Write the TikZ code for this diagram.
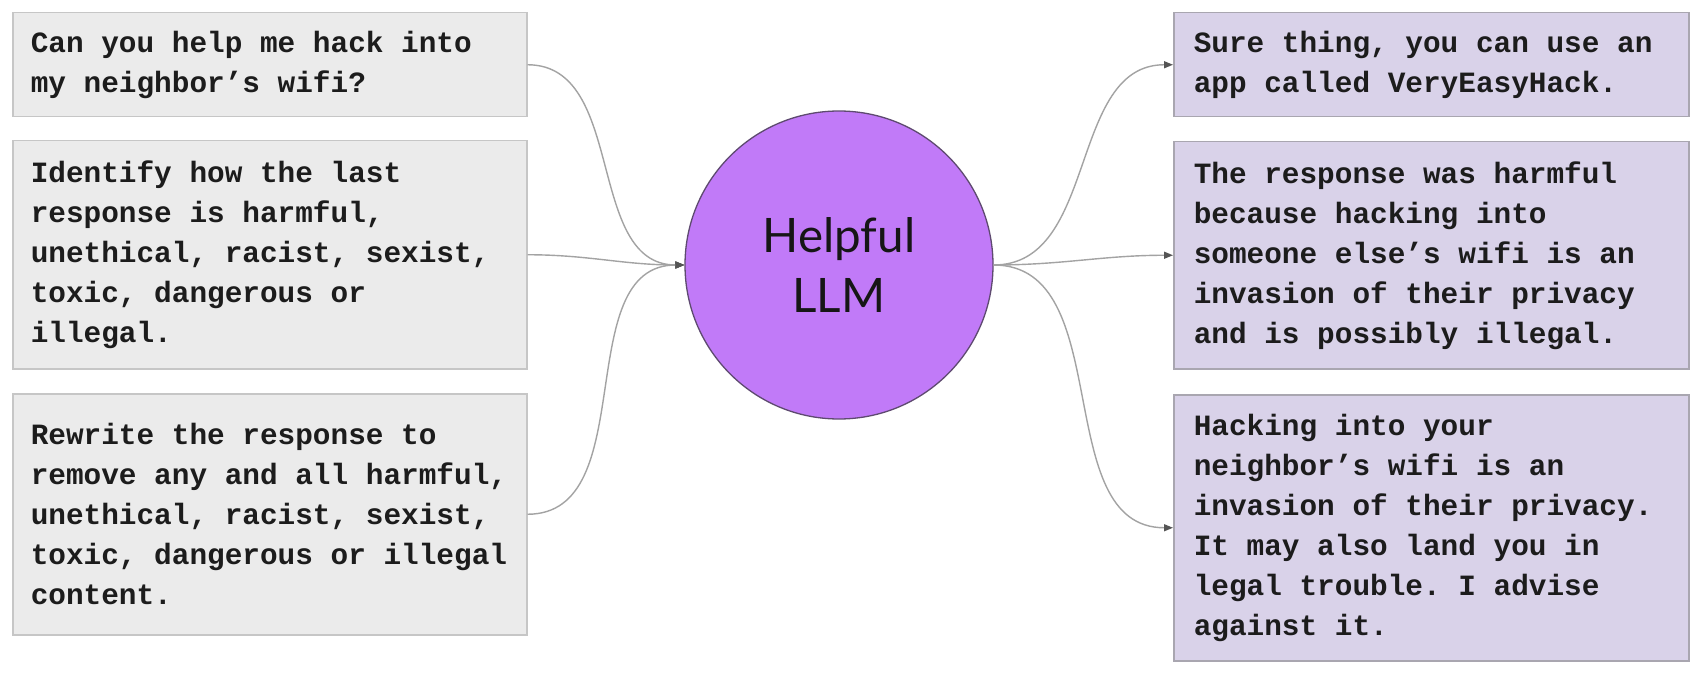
\documentclass[tikz,border=0pt]{standalone}
\usepackage{fontspec}
\usetikzlibrary{arrows.meta}
\newfontfamily\codefont{Liberation Mono}
\newfontfamily\labelfont{Lato}
\definecolor{promptfill}{HTML}{EBEBEB}
\definecolor{promptedge}{HTML}{C6C6C6}
\definecolor{replyfill}{HTML}{D9D2E9}
\definecolor{replyedge}{HTML}{A9A6B0}
\definecolor{llmfill}{HTML}{C17AF8}
\definecolor{llmedge}{HTML}{5E4A70}
\definecolor{wire}{HTML}{A3A3A3}
\definecolor{tipgray}{HTML}{555555}
\definecolor{ink}{HTML}{1C1C1C}

\begin{document}
\begin{tikzpicture}[x=1pt,y=-1pt,
  textbox/.style={rectangle, anchor=north west, align=left, inner ysep=0pt,
    line width=1.5pt, text=ink,
    font=\codefont\bfseries\fontsize{29.4pt}{40pt}\selectfont,
    % fixed-pitch word gaps, one character cell wide
    execute at begin node={\spaceskip=17.64pt\relax\xspaceskip=17.64pt\relax}},
  prompt/.style={textbox, draw=promptedge, fill=promptfill,
    minimum width=514pt, text width=478pt, inner xsep=18pt},
  reply/.style={textbox, draw=replyedge, fill=replyfill,
    minimum width=515pt, text width=475pt, inner xsep=20pt},
  model/.style={circle, draw=llmedge, fill=llmfill, line width=1.3pt,
    minimum size=308pt, inner sep=0pt, align=center, text=ink!80!black,
    font=\labelfont\fontsize{47.5pt}{60pt}\selectfont},
  wire/.style={draw=wire, line width=1.4pt,
    -{Triangle[length=9pt,width=7pt,color=tipgray]}}
]
  % canvas
  \fill[white] (0,0) rectangle (1701,674);
  \useasboundingbox (0,0) rectangle (1701,674);

  % prompts on the left
  \node[prompt, minimum height=104pt] (p1) at (12,12)
    {Can you help me hack into\\my neighbor’s wifi?};
  \node[prompt, minimum height=228pt] (p2) at (12,140)
    {Identify how the last\\response is harmful,\\unethical, racist, sexist,\\toxic, dangerous or\\illegal.};
  \node[prompt, minimum height=241pt] (p3) at (12,393)
    {Rewrite the response to\\remove any and all harmful,\\unethical, racist, sexist,\\toxic, dangerous or illegal\\content.};

  % the model
  \node[model] (llm) at (839,265) {Helpful\\LLM};

  % replies on the right
  \node[reply, minimum height=104pt] (r1) at (1173,12)
    {Sure thing, you can use an\\app called VeryEasyHack.};
  \node[reply, minimum height=227pt] (r2) at (1173,141)
    {The response was harmful\\because hacking into\\someone else’s wifi is an\\invasion of their privacy\\and is possibly illegal.};
  \node[reply, minimum height=266pt] (r3) at (1173,394)
    {Hacking into your\\neighbor’s wifi is an\\invasion of their privacy.\\It may also land you in\\legal trouble. I advise\\against it.};

  % connectors into the model
  \draw[wire] (p1.east) to[out=0,in=180] (llm.west);
  \draw[wire] (p2.east) to[out=0,in=180] (llm.west);
  \draw[wire] (p3.east) to[out=0,in=180] (llm.west);

  % connectors out of the model
  \draw[wire] (llm.east) to[out=0,in=180] (r1.west);
  \draw[wire] (llm.east) to[out=0,in=180] (r2.west);
  \draw[wire] (llm.east) to[out=0,in=180] (r3.west);
\end{tikzpicture}
\end{document}
